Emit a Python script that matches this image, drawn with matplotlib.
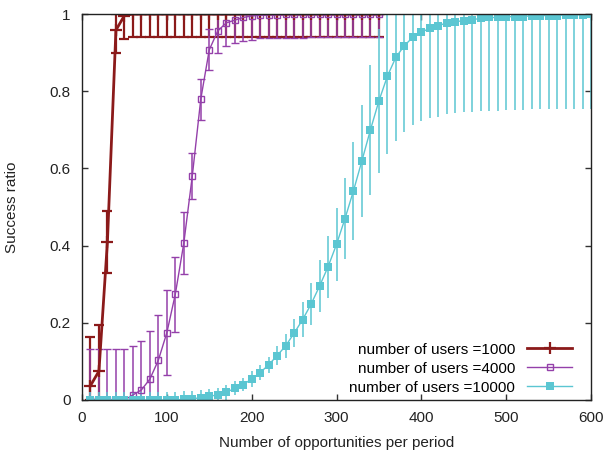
import matplotlib
matplotlib.use("Agg")
import matplotlib.pyplot as plt
from matplotlib.lines import Line2D
import numpy as np

plt.rcParams["font.family"] = ["Liberation Sans", "DejaVu Sans"]

# opportunities per period
x_1000 = list(range(10, 360, 10))
x_4000 = list(range(10, 360, 10))
x_10000 = list(range(10, 610, 10))

# success ratio, 1000 users
y_1000 = [0.037, 0.075, 0.41, 0.958, 0.996] + [1.0] * 30
e_1000 = [0.127, 0.12, 0.08, 0.058, 0.062] + [0.06] * 30

# success ratio, 4000 users
y_4000 = [0.0, 0.0, 0.0, 0.0, 0.0, 0.013, 0.026, 0.054, 0.103, 0.174,
          0.274, 0.406, 0.58, 0.779, 0.907, 0.956, 0.977, 0.984, 0.991, 0.995,
          0.997, 0.998, 0.998, 0.999, 0.999, 0.999, 1.0, 1.0, 1.0, 1.0,
          1.0, 1.0, 1.0, 1.0, 1.0]
e_4000 = [0.132, 0.132, 0.132, 0.132, 0.132, 0.128, 0.127, 0.126, 0.117, 0.11,
          0.097, 0.08, 0.06, 0.053, 0.053, 0.058, 0.06, 0.06, 0.06, 0.062,
          0.06, 0.06, 0.06, 0.06, 0.06, 0.06, 0.06, 0.06, 0.06, 0.06,
          0.06, 0.06, 0.06, 0.06, 0.06]

# success ratio, 10000 users
y_10000 = [0.0] * 11 + [
    0.002, 0.003, 0.006, 0.01, 0.013, 0.02, 0.03, 0.04, 0.054, 0.071,
    0.091, 0.115, 0.14, 0.173, 0.208, 0.248, 0.295, 0.345, 0.403, 0.47,
    0.542, 0.62, 0.70, 0.775, 0.839, 0.888, 0.918, 0.94, 0.953, 0.963,
    0.97, 0.977, 0.98, 0.983, 0.985, 0.989, 0.991, 0.991, 0.993, 0.993,
    0.993, 0.996, 0.996, 0.996, 0.996, 0.998, 0.998, 0.998, 0.999]
e_10000 = [0.02] * 11 + [
    0.02, 0.02, 0.02, 0.018, 0.019, 0.02, 0.018, 0.018, 0.02, 0.02,
    0.0215, 0.024, 0.03, 0.037, 0.045, 0.055, 0.067, 0.08, 0.094, 0.106,
    0.127, 0.145, 0.168, 0.187, 0.202, 0.216, 0.223, 0.228, 0.231, 0.233,
    0.236, 0.237, 0.237, 0.238, 0.238, 0.241, 0.242, 0.241, 0.242, 0.242,
    0.242, 0.243, 0.243, 0.242, 0.242, 0.243, 0.243, 0.243, 0.244]

labels = ["number of users =1000", "number of users =4000",
          "number of users =10000"]
colors = ["#8b1a1a", "#9440aa", "#5bc6d2"]


def clipped(y, e):
    # gnuplot cuts the bars at the plot border
    y = np.array(y)
    e = np.array(e)
    lo = y - np.clip(y - e, 0, 1)
    hi = np.clip(y + e, 0, 1) - y
    return [lo, hi]


fig = plt.figure(figsize=(6.05, 4.55), dpi=100)
ax = fig.add_axes([0.1355, 0.1209, 0.8414, 0.8483])

styles = [
    dict(lw=2, elinewidth=1.6, capsize=3.6, capthick=1.6,
         marker="+", ms=8, mew=1.6),
    dict(lw=1, elinewidth=1.1, capsize=3, capthick=1.1,
         marker="s", ms=5, mfc="none", mew=1),
    dict(lw=1, elinewidth=1.1, capsize=3, capthick=1.1,
         marker="s", ms=5.5, mew=0),
]
series = [(x_1000, y_1000, e_1000), (x_4000, y_4000, e_4000),
          (x_10000, y_10000, e_10000)]
handles = []
for (xs, ys, es), c, st in zip(series, colors, styles):
    ax.errorbar(xs, ys, yerr=clipped(ys, es), color=c, **st)
    handles.append(Line2D([], [], color=c, lw=st["lw"], marker=st["marker"],
                          ms=st["ms"], mew=st["mew"],
                          mfc=st.get("mfc", c)))

ax.set_xlim(0, 600)
ax.set_ylim(0, 1)
ax.set_xticks(range(0, 700, 100))
ax.set_yticks([0, 0.2, 0.4, 0.6, 0.8, 1])
ax.set_yticklabels(["0", "0.2", "0.4", "0.6", "0.8", "1"])
ax.tick_params(direction="in", length=4, width=1, top=True, right=True,
               labelsize=11, pad=8, colors="#333333", labelcolor="#222222")
for s in ax.spines.values():
    s.set_color("#222222")
    s.set_linewidth(1)

ax.set_xlabel("Number of opportunities per period", fontsize=11, color="#222222")
ax.set_ylabel("Success ratio", fontsize=11, color="#222222")
ax.xaxis.set_label_coords(0.5, -0.092)
ax.yaxis.set_label_coords(-0.124, 0.5)

ax.legend(handles, labels, loc="lower right", bbox_to_anchor=(0.963, 0.014),
          frameon=False, markerfirst=False, fontsize=11, handlelength=2.95,
          handletextpad=0.78, labelspacing=0.32, borderpad=0,
          borderaxespad=0)

fig.savefig("out.png", dpi=100)
